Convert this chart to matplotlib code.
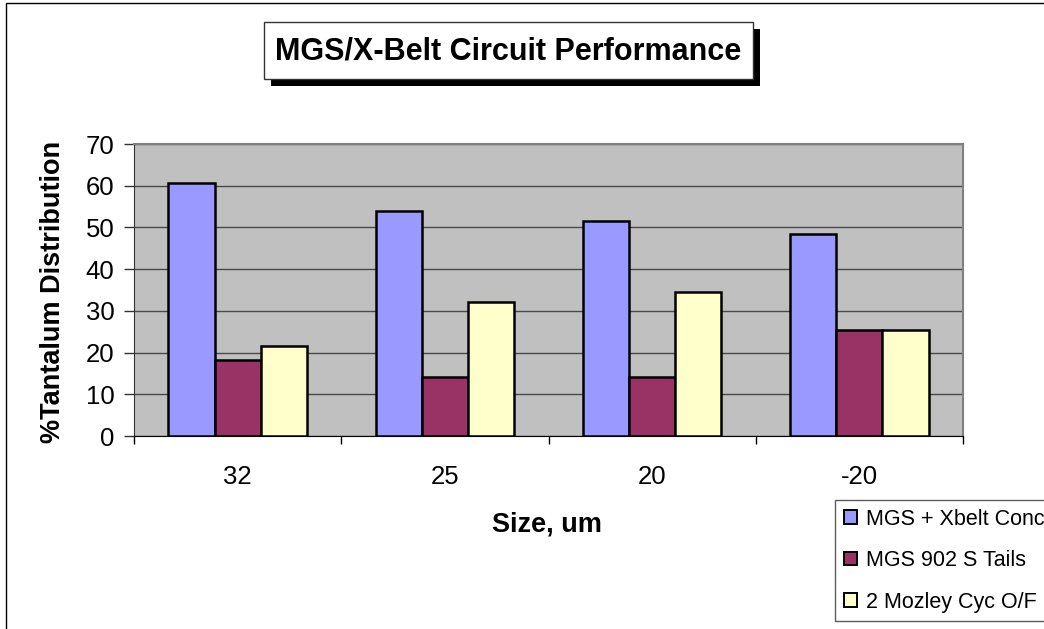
import numpy as np
import matplotlib
matplotlib.use("Agg")
import matplotlib.pyplot as plt
from matplotlib.patches import Rectangle, Patch

# data
sizes = ["32", "25", "20", "-20"]
series_names = ["MGS + Xbelt Conc", "MGS 902 S Tails", "2 Mozley Cyc O/F"]
xbelt_conc = [60.6, 54.0, 51.6, 48.4]
s_tails = [18.2, 14.1, 14.1, 25.5]
mozley_of = [21.5, 32.1, 34.5, 25.5]
series_colors = ["#9999FF", "#993366", "#FFFFCC"]

plt.rcParams['font.family'] = ['Liberation Sans', 'DejaVu Sans']

W, H = 1044, 629
fig = plt.figure(figsize=(W / 100, H / 100), dpi=100)


def fx(px):
    return px / W


def fy(py):
    # pixel y measured from top
    return 1 - py / H


# plot area
left, right, top, bottom = 134, 963, 144, 436
ax = fig.add_axes([fx(left), fy(bottom), fx(right - left), (bottom - top) / H])
ax.set_facecolor("#C0C0C0")

x = np.arange(len(sizes))
width = 0.223
all_series = [xbelt_conc, s_tails, mozley_of]
for i, (vals, name, col) in enumerate(zip(all_series, series_names, series_colors)):
    ax.bar(x + (i - 1) * width, vals, width, color=col, edgecolor="black",
           linewidth=1.8, label=name, zorder=3)

ax.set_xlim(-0.5, len(sizes) - 0.5)
ax.set_ylim(0, 70)
ax.set_yticks(range(0, 71, 10))
ax.yaxis.grid(True, color="#4a4a4a", linewidth=1, zorder=1)
ax.set_axisbelow(True)

ax.set_xticks(x)
ax.set_xticklabels(sizes)
ax.set_xticks(np.arange(-0.5, len(sizes)), minor=True)
ax.tick_params(axis="x", which="major", length=0, pad=21, labelsize=18.5)
ax.tick_params(axis="x", which="minor", length=6, width=1, color="black", direction="out")
ax.tick_params(axis="y", length=7, width=1, color="#333333", pad=7, labelsize=18.5)

ax.spines["left"].set_color("#333333")
ax.spines["bottom"].set_color("black")
for s in ["top", "right"]:
    ax.spines[s].set_color("#808080")
    ax.spines[s].set_linewidth(1.5)

# axis titles
fig.text(fx(53), fy(292), "%Tantalum Distribution", rotation=90, ha="center",
         va="center", fontsize=19.5, fontweight="bold")
fig.text(fx(547), fy(525), "Size, um", ha="center", va="center",
         fontsize=19.5, fontweight="bold")

# chart title with drop shadow
bx0, by0, bx1, by1 = 264, 22, 753, 79
shadow = 7
fig.patches.append(Rectangle((fx(bx0 + shadow), fy(by1 + shadow)), fx(bx1 - bx0), (by1 - by0) / H,
                             transform=fig.transFigure, facecolor="black", edgecolor="none", zorder=1))
fig.patches.append(Rectangle((fx(bx0), fy(by1)), fx(bx1 - bx0), (by1 - by0) / H,
                             transform=fig.transFigure, facecolor="white", edgecolor="#333333",
                             linewidth=1, zorder=2))
fig.text(fx((bx0 + bx1) / 2), fy((by0 + by1) / 2 + 1), "MGS/X-Belt Circuit Performance",
         ha="center", va="center", fontsize=22, fontweight="bold", zorder=3)

# outer chart border (runs off the right and bottom edges)
fig.patches.append(Rectangle((fx(5.5), -0.05), 1.1, fy(2.5) + 0.05, transform=fig.transFigure,
                             facecolor="none", edgecolor="black", linewidth=1, zorder=0))

# legend
handles = [Patch(facecolor=c, edgecolor="black", linewidth=1.4) for c in series_colors]
leg = fig.legend(handles, series_names, loc="upper left", bbox_to_anchor=(fx(835), fy(500)),
                 fontsize=15.5, frameon=True, fancybox=False, borderaxespad=0,
                 borderpad=0.4, handlelength=0.6, handleheight=0.6, handletextpad=0.45,
                 labelspacing=0.95)
leg.get_frame().set_edgecolor("#333333")
leg.get_frame().set_linewidth(1)

fig.savefig("out.png", dpi=100)
